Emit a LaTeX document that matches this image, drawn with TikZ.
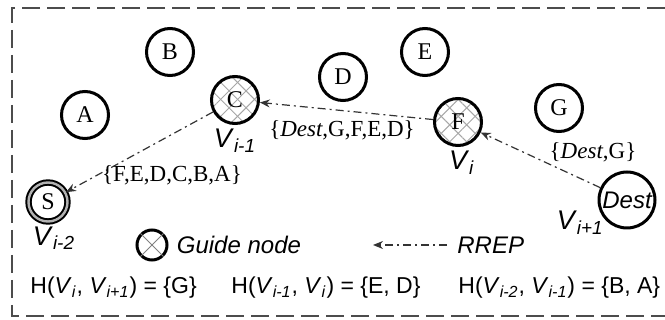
\documentclass[tikz,border=0pt]{standalone}
\usepackage{fontspec}
\setmainfont{Liberation Serif}
\setsansfont{Liberation Sans}
\usetikzlibrary{positioning, patterns.meta, arrows.meta}

\newcommand{\Vs}[1]{\textit{V}\textsubscript{\textit{#1}}}

\tikzset{
  nut/.style={circle, draw, line width=1.5pt, minimum size=23.5pt, inner sep=0pt,
    font=\fontsize{12}{12}\selectfont},
  dan/.style={nut,
    preaction={pattern={Lines[angle=45, distance=6pt, line width=0.5pt]}, pattern color=gray!70},
    preaction={pattern={Lines[angle=-45, distance=6pt, line width=0.5pt]}, pattern color=gray!70}},
  nhan/.style={font=\sffamily\fontsize{11.5}{12}\selectfont, inner sep=1pt},
  nhanV/.style={font=\sffamily\fontsize{13.5}{14}\selectfont, inner sep=1pt},
  tap/.style={font=\fontsize{11.5}{12}\selectfont, inner sep=1pt},
  rrep/.style={draw=black!80, line width=0.6pt, dash pattern=on 4pt off 2pt on 1pt off 2pt,
    -{Stealth[length=5pt, width=4pt]}},
}

\begin{document}
\begin{tikzpicture}[x=0.5pt, y=-0.5pt]
    \useasboundingbox (0,0) rectangle (665,320);
    % Khung nét đứt
    \draw[black!70, line width=0.7pt, dash pattern=on 9pt off 3.5pt]
        (665,8) -- (12,8) -- (12,316) -- (665,316);

    % Các nút
    \node[nut] (A) at (85,115) {A};
    \node[nut] (B) at (170,52) {B};
    \node[dan] (C) at (235,100) {C};
    \node[nut] (D) at (343,77) {D};
    \node[nut] (E) at (425,52) {E};
    \node[dan] (F) at (458,122) {F};
    \node[nut] (G) at (559,108) {G};
    \node[nut, minimum size=28pt, font=\sffamily\itshape\fontsize{12}{12}\selectfont] (Dest) at (627,200) {Dest};
    \node[nut, line width=1pt, double=gray!60, double distance=1.2pt, minimum size=19.5pt] (S) at (48,202) {S};

    % Nhãn V
    \node[nhanV, below=1pt of C] (vC) {\Vs{i-1}};
    \node[nhanV, below=1pt of F, xshift=2pt] (vF) {\Vs{i}};
    \node[nhanV, below=1pt of S, xshift=3pt] (vS) {\Vs{i-2}};
    \node[nhanV, anchor=north east, xshift=0pt, yshift=6pt] (vDest) at (Dest.south west) {\Vs{i+1}};

    % Đường RREP
    \draw[rrep] (Dest) -- (F);
    \draw[rrep] (F) -- (C);
    \draw[rrep] (C) -- (S);

    % Tập nút
    \node[tap] (tDest) at (342,130) {\{\textit{Dest},G,F,E,D\}};
    \node[tap] (tF) at (172,175) {\{F,E,D,C,B,A\}};
    \node[tap] (tG) at (593,152) {\{\textit{Dest},G\}};

    % Chú thích
    \node[circle, draw, line width=1.5pt, minimum size=15pt, inner sep=0pt] (gd) at (152,245) {};
    \draw[gray, line width=0.5pt] (gd.45) -- (gd.225) (gd.135) -- (gd.315);
    \node[nhan, font=\sffamily\itshape\fontsize{12}{12}\selectfont, right=3pt of gd] (gdtext) {Guide node};
    \coordinate (r1) at (447,245);
    \coordinate (r0) at (373,245);
    \draw[rrep] (r1) -- (r0);
    \node[nhan, font=\sffamily\itshape\fontsize{12}{12}\selectfont, right=4pt of r1] (rreptext) {RREP};

    % Tập H
    \node[nhan, anchor=west] (h1) at (28,288) {H(\Vs{i}, \Vs{i+1}) = \{G\}};
    \node[nhan, anchor=west] (h2) at (229,288) {H(\Vs{i-1}, \Vs{i}) = \{E, D\}};
    \node[nhan, anchor=west] (h3) at (456,288) {H(\Vs{i-2}, \Vs{i-1}) = \{B, A\}};
\end{tikzpicture}
\end{document}
